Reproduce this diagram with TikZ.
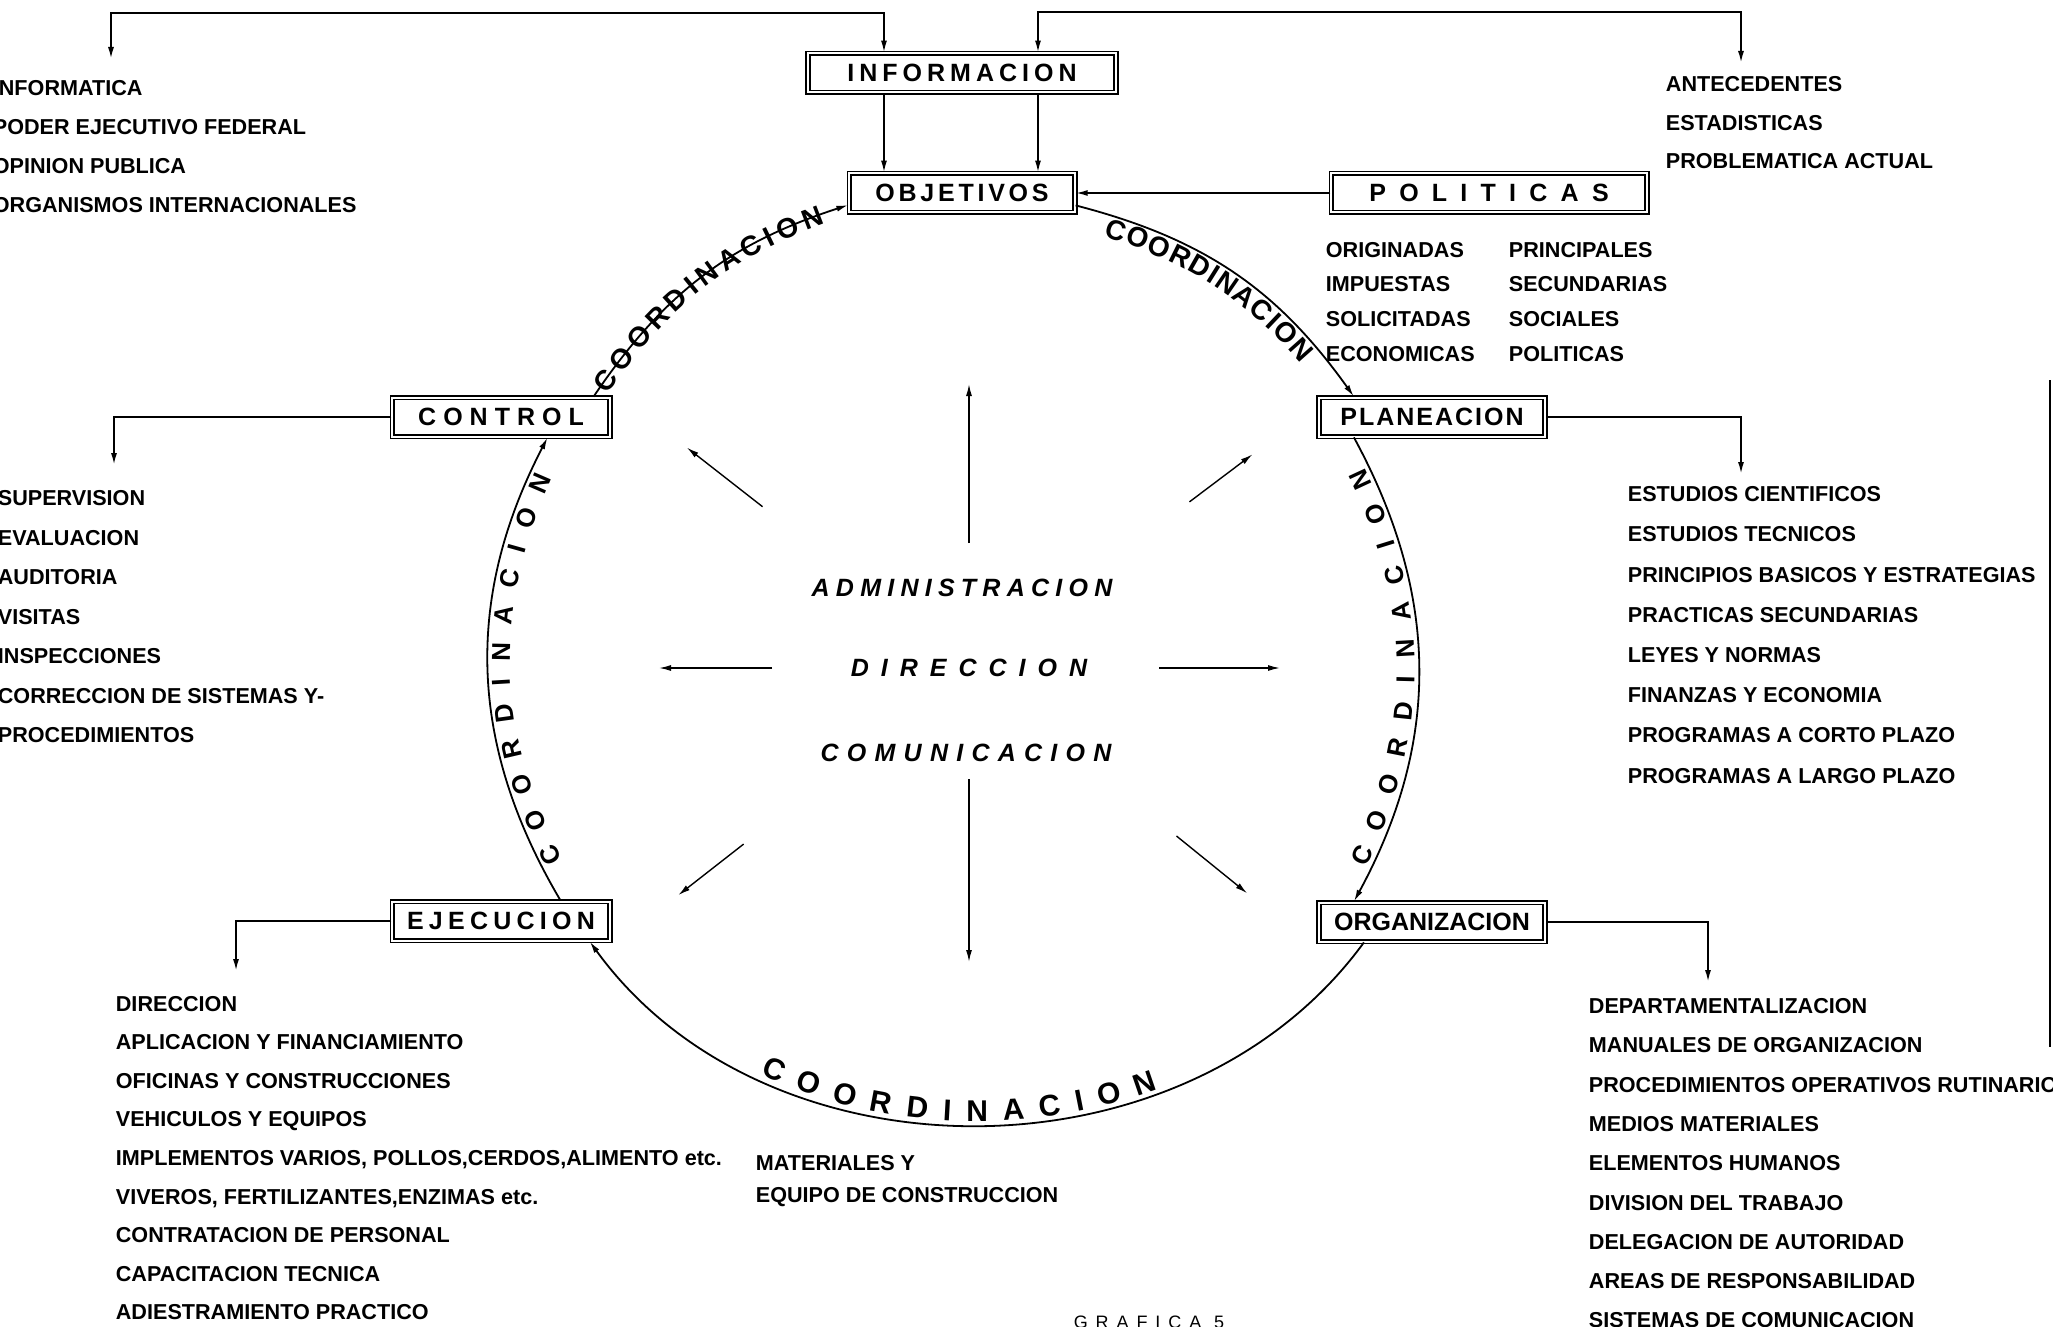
\documentclass[tikz,border=0pt]{standalone}
\usepackage{fontspec}
\setmainfont{Liberation Sans}
\usetikzlibrary{arrows.meta}
\usetikzlibrary{decorations.text}
\newcommand{\arcfont}{\bfseries\fontsize{13}{15}\selectfont}
\newcommand{\toparcfont}{\bfseries\fontsize{14}{16}\selectfont}
\newcommand{\bigarcfont}{\bfseries\fontsize{15}{17}\selectfont}

\begin{document}
\begin{tikzpicture}[x=0.5pt, y=-0.5pt, line width=0.9pt,
    >={Latex[length=6pt, width=3pt]},
    caja/.style={draw, double, double distance=1pt, inner sep=0pt, minimum height=19.5pt, font=\bfseries\fontsize{12.5}{14}\selectfont},
    lista/.style={anchor=base west, inner sep=0pt, font=\bfseries\fontsize{10.8}{13}\selectfont},
    centro/.style={inner sep=0pt, font=\bfseries\itshape\fontsize{12.5}{14}\selectfont},
    radial/.style={->, line width=0.7pt},
    coord/.style={postaction={decorate}, decoration={text along path, text={|\arcfont|COORDINACION}, #1}}]
        \useasboundingbox (0,0) rectangle (2053,1327);

        \node[caja, minimum width=154pt] (info) at (962,73) {\addfontfeature{LetterSpace=20}INFORMACION};
        \node[caja, minimum width=112.7pt] (obj) at (962,193) {\addfontfeature{LetterSpace=15}OBJETIVOS};
        \node[caja, minimum width=157.7pt] (pol) at (1489,193) {\addfontfeature{LetterSpace=53}POLITICAS};
        \node[caja, minimum width=108.7pt] (ctrl) at (501,417) {\addfontfeature{LetterSpace=28}CONTROL};
        \node[caja, minimum width=113.2pt] (plan) at (1432,417) {\addfontfeature{LetterSpace=8}PLANEACION};
        \node[caja, minimum width=108.7pt] (ejec) at (501,921) {\addfontfeature{LetterSpace=21}EJECUCION};
        \node[caja, minimum width=113.2pt] (org) at (1432,922) {ORGANIZACION};

        \node[centro] (adm) at (962,588) {\addfontfeature{LetterSpace=25}ADMINISTRACION};
        \node[centro] (dir) at (969,668) {\addfontfeature{LetterSpace=48}DIRECCION};
        \node[centro] (com) at (966,753) {\addfontfeature{LetterSpace=33}COMUNICACION};

        \coordinate (cen) at (969,668);
        \foreach \a/\ri/\ro in {-90/125/284, 90/111/294, 180/197/310, 0/190/311, 218/262/358, -37/276/355, 142/286/369, 39/267/358}
            \draw[radial] ([shift={(\a:\ri)}]cen) -- ([shift={(\a:\ro)}]cen);

        % circulo de coordinacion
        \draw[->, coord={text={|\toparcfont|COORDINACION}, text align={fit to path, left indent=5pt, right indent=14pt}, raise=-5pt}]
            ([xshift=-8.5pt]ctrl.north east) to[bend left=19] ([yshift=-6pt]obj.west);
        \draw[->, coord={text={|\toparcfont|COORDINACION}, text align={fit to path, left indent=18pt, right indent=30pt}, raise=-11pt}]
            ([yshift=4pt]obj.south east) to[bend left=20] ([xshift=18pt]plan.north west);
        \draw[<-, coord={text align={fit to path, left indent=18pt, right indent=16pt}, raise=2pt}]
            ([xshift=18pt]org.north west) to[bend right=28.5] ([xshift=18pt]plan.south west);
        \draw[<-, coord={text={|\bigarcfont|COORDINACION}, text align={fit to path, left indent=110pt, right indent=129pt}, raise=2pt}]
            ([xshift=-10.5pt]ejec.south east) to[bend right=54] ([xshift=23pt]org.south west);
        \draw[->, coord={text align={fit to path, left indent=18pt, right indent=18pt}, raise=-11pt}]
            ([xshift=-25pt]ejec.north east) to[bend left=29] ([xshift=-31.5pt]ctrl.south east);

        \coordinate (infoL) at (111,59);
        \coordinate (antL) at (1741,63);
        \coordinate (ctrlL) at (114,465);
        \coordinate (planL) at (1741,474);
        \coordinate (ejecL) at (236,971);
        \coordinate (orgL) at (1708,982);
        \draw[<->] (infoL) -- ++(0,-46) -| ([xshift=-39pt]info.north);
        \draw[<->] ([xshift=38pt]info.north) -- ++(0,-40.5) -| (antL);
        \draw[->] ([xshift=-39pt]info.south) -- ([xshift=-39pt]obj.north);
        \draw[->] ([xshift=38pt]info.south) -- ([xshift=38pt]obj.north);
        \draw[->] (pol.west) -- (obj.east);
        \draw[->] (ctrl.west) -| (ctrlL);
        \draw[->] (plan.east) -| (planL);
        \draw[->] (ejec.west) -| (ejecL);
        \draw[->] (org.east) -| (orgL);

        \foreach \t [count=\i] in {INFORMATICA, PODER EJECUTIVO FEDERAL, OPINION PUBLICA, ORGANISMOS INTERNACIONALES}
            \node[lista] (inf\i) at (-8, 57.2+38.8*\i) {\t};
        \foreach \t [count=\i] in {ANTECEDENTES, ESTADISTICAS, PROBLEMATICA ACTUAL}
            \node[lista] (ant\i) at (1665, 53.5+38.5*\i) {\t};
        \foreach \t [count=\i] in {ORIGINADAS, IMPUESTAS, SOLICITADAS, ECONOMICAS}
            \node[lista] (pa\i) at (1325, 222.2+34.8*\i) {\t};
        \foreach \t [count=\i] in {PRINCIPALES, SECUNDARIAS, SOCIALES, POLITICAS}
            \node[lista] (pb\i) at (1508, 222.2+34.8*\i) {\t};
        \foreach \t [count=\i] in {SUPERVISION, EVALUACION, AUDITORIA, VISITAS, INSPECCIONES, CORRECCION DE SISTEMAS Y-, PROCEDIMIENTOS}
            \node[lista] (ct\i) at (-3, 466+39.5*\i) {\t};
        \foreach \t [count=\i] in {ESTUDIOS CIENTIFICOS, ESTUDIOS TECNICOS, PRINCIPIOS BASICOS Y ESTRATEGIAS, PRACTICAS SECUNDARIAS, LEYES Y NORMAS, FINANZAS Y ECONOMIA, PROGRAMAS A CORTO PLAZO, PROGRAMAS A LARGO PLAZO}
            \node[lista] (pl\i) at (1627, 461.4+40.2*\i) {\t};
        \foreach \t [count=\i] in {DIRECCION, APLICACION Y FINANCIAMIENTO, OFICINAS Y CONSTRUCCIONES, VEHICULOS Y EQUIPOS, {IMPLEMENTOS VARIOS, POLLOS,CERDOS,ALIMENTO etc.}, {VIVEROS, FERTILIZANTES,ENZIMAS etc.}, CONTRATACION DE PERSONAL, CAPACITACION TECNICA, ADIESTRAMIENTO PRACTICO}
            \node[lista] (ej\i) at (115, 972.4+38.6*\i) {\t};
        \node[lista] (mat) at (755,1170.6) {MATERIALES Y};
        \node[lista] (equ) at (755,1202) {EQUIPO DE CONSTRUCCION};
        \foreach \t [count=\i] in {DEPARTAMENTALIZACION, MANUALES DE ORGANIZACION, PROCEDIMIENTOS OPERATIVOS RUTINARIOS, MEDIOS MATERIALES, ELEMENTOS HUMANOS, DIVISION DEL TRABAJO, DELEGACION DE AUTORIDAD, AREAS DE RESPONSABILIDAD, SISTEMAS DE COMUNICACION}
            \node[lista] (or\i) at (1588, 974.2+39.3*\i) {\t};

        \node[anchor=base, inner sep=0pt, font=\fontsize{9}{11}\selectfont] (graf) at (1149,1328) {\addfontfeature{LetterSpace=44}GRAFICA  5};
        \draw[line width=0.6pt] (2050,380) -- (2050,1047);
    \end{tikzpicture}
\end{document}
